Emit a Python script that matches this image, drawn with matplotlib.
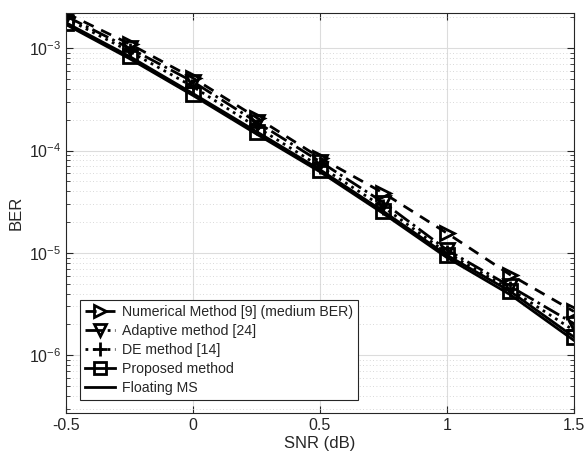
import matplotlib
matplotlib.use("Agg")
import matplotlib.pyplot as plt

snr = [-0.5, -0.25, 0, 0.25, 0.5, 0.75, 1, 1.25, 1.5]
ber_numerical = [2.2e-3, 1.1e-3, 5.1e-4, 2.1e-4, 8.5e-5, 3.84e-5, 1.56e-5, 6.1e-6, 2.68e-6]
ber_adaptive = [2.05e-3, 1.0e-3, 4.7e-4, 1.9e-4, 7.8e-5, 3.1e-5, 1.07e-5, 4.7e-6, 2.04e-6]
ber_de = [1.95e-3, 9.3e-4, 4.2e-4, 1.7e-4, 7.0e-5, 2.8e-5, 1.0e-5, 4.4e-6, 1.75e-6]
ber_proposed = [1.77e-3, 8.3e-4, 3.6e-4, 1.53e-4, 6.5e-5, 2.54e-5, 9.5e-6, 4.2e-6, 1.51e-6]
ber_floating = [1.7e-3, 7.9e-4, 3.45e-4, 1.45e-4, 6.2e-5, 2.42e-5, 9.0e-6, 3.9e-6, 1.4e-6]

plt.rcParams['font.family'] = ['Liberation Sans', 'DejaVu Sans']
plt.rcParams['text.color'] = '#262626'
plt.rcParams['xtick.color'] = '#262626'
plt.rcParams['ytick.color'] = '#262626'
plt.rcParams['axes.labelcolor'] = '#262626'
fig = plt.figure(figsize=(5.85, 4.68), dpi=100)
ax = fig.add_axes([0.113, 0.1175, 0.868, 0.8545])

lw = 2
ms = 10.5
ax.semilogy(snr, ber_numerical, '--', marker='>', color='k', lw=lw, ms=ms,
            mfc='none', mew=lw, dashes=(4, 3), label="Numerical Method [9] (medium BER)")
ax.semilogy(snr, ber_adaptive, '-.', marker='v', color='k', lw=lw, ms=ms,
            mfc='none', mew=lw, label="Adaptive method [24]")
ax.semilogy(snr, ber_de, ':', marker='+', color='k', lw=lw, ms=ms + 1,
            mew=lw, label="DE method [14]")
ax.semilogy(snr, ber_proposed, '-', marker='s', color='k', lw=lw, ms=ms - 1,
            mfc='none', mew=lw, label="Proposed method")
ax.semilogy(snr, ber_floating, '-', color='k', lw=lw, label="Floating MS")

ax.set_xlim(-0.5, 1.5)
ax.set_ylim(2.73e-7, 2.2e-3)
ax.set_xticks([-0.5, 0, 0.5, 1, 1.5])
ax.set_xticklabels(["-0.5", "0", "0.5", "1", "1.5"])
ax.grid(which='major', color='#dcdcdc', lw=0.8)
ax.grid(which='minor', axis='y', color='#cccccc', lw=0.6, linestyle=(0, (1, 3)))
ax.tick_params(which='both', direction='in', top=True, right=True, labelsize=11.5)
ax.tick_params(which='major', length=5)
ax.tick_params(which='minor', length=3)
for s in ax.spines.values():
    s.set_linewidth(0.8)
    s.set_color('#262626')

ax.set_xlabel("SNR (dB)", fontsize=12, labelpad=2)
ax.set_ylabel("BER", fontsize=12)

leg = ax.legend(loc='lower left', bbox_to_anchor=(0.028, 0.032), fontsize=10.2,
                handlelength=2.1, handletextpad=0.5, borderpad=0.35,
                labelspacing=0.36, fancybox=False, framealpha=1,
                edgecolor='#262626', borderaxespad=0, markerscale=0.85)
leg.get_frame().set_linewidth(0.8)

fig.savefig("out.png", dpi=100)
